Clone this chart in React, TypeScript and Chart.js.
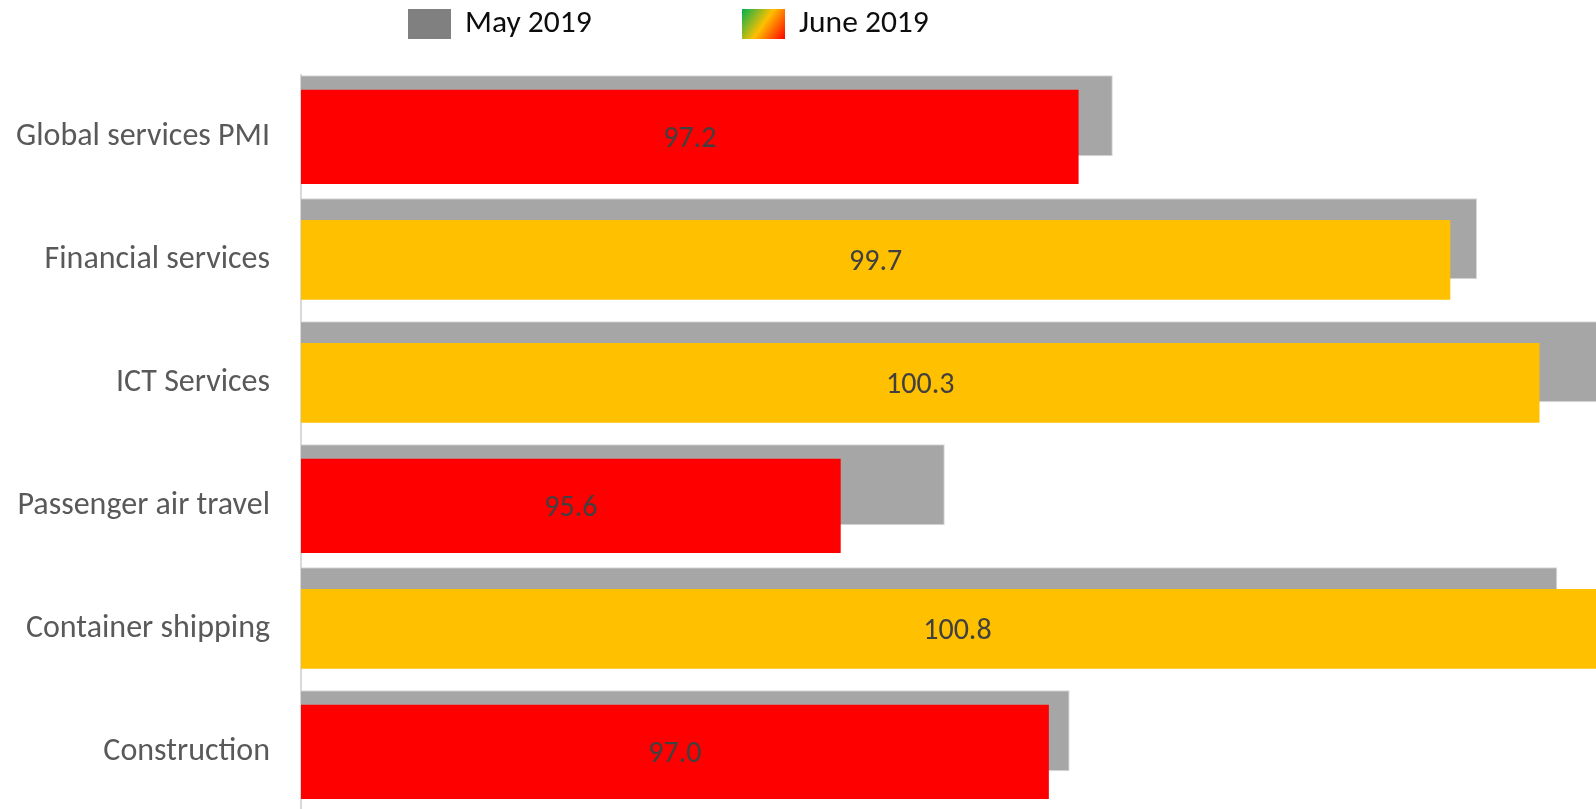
import React, { useEffect, useRef } from 'react';
import { Chart, registerables } from 'chart.js';

Chart.register(...registerables);

// ---- Data ----
const categories = [
  'Global services PMI',
  'Financial services',
  'ICT Services',
  'Passenger air travel',
  'Container shipping',
  'Construction',
];
const seriesNames = ['May 2019', 'June 2019'];
const mayValues = [97.43, 99.88, 100.9, 96.3, 100.42, 97.14];
const juneValues = [97.2, 99.7, 100.3, 95.6, 100.8, 97.0];
const axisMin = 91.97;
const axisMax = 100.68;
const juneRedBelow = 99; // June readings under this are coloured red, others amber

// ---- Style ----
const FONT = 'Carlito, Calibri, Lato, sans-serif';
const MAY_BAR = '#A6A6A6';
const MAY_SWATCH = '#808080';
const JUNE_RED = '#FF0000';
const JUNE_AMBER = '#FFC000';
const JUNE_GREEN = '#00B050';
const MAY_INDEX = 0;

export default function App() {
  const ref = useRef<HTMLCanvasElement | null>(null);

  useEffect(() => {
    document.body.style.margin = '0';
    const canvas = ref.current;
    if (!canvas) return;

    const juneRed = juneValues.map((v) => (v < juneRedBelow ? v : null));
    const juneAmber = juneValues.map((v) => (v >= juneRedBelow ? v : null));

    // Draw the May bars behind the June bars
    const behindPlugin = {
      id: 'mayBehind',
      beforeDatasetDraw(_chart: any, args: any) {
        if (args.index === MAY_INDEX) return false;
        return undefined;
      },
      beforeDatasetsDraw(chart: any) {
        const meta = chart.getDatasetMeta(MAY_INDEX);
        const { ctx, chartArea: a } = chart;
        ctx.save();
        ctx.beginPath();
        ctx.rect(a.left, a.top, a.right - a.left, a.bottom - a.top);
        ctx.clip();
        meta.controller.draw();
        ctx.restore();
      },
    };

    const labelPlugin = {
      id: 'juneLabels',
      afterDatasetsDraw(chart: any) {
        const ctx = chart.ctx;
        const xs = chart.scales.x;
        const left = xs.getPixelForValue(xs.min);
        ctx.save();
        ctx.font = `30px ${FONT}`;
        ctx.fillStyle = '#404040';
        ctx.textAlign = 'center';
        ctx.textBaseline = 'middle';
        juneValues.forEach((v, i) => {
          const dsIndex = v < juneRedBelow ? 1 : 2;
          const bar = chart.getDatasetMeta(dsIndex).data[i];
          const x = (left + xs.getPixelForValue(v)) / 2;
          ctx.fillText(v.toFixed(1), x, bar.y + 3);
        });
        ctx.restore();
      },
    };

    const legendPlugin = {
      id: 'customLegend',
      afterDraw(chart: any) {
        const ctx = chart.ctx;
        const boxW = 43;
        const boxH = 30;
        const top = 9;
        const xs = [408, 742];
        ctx.save();
        xs.forEach((x, i) => {
          if (i === 0) {
            ctx.fillStyle = MAY_SWATCH;
          } else {
            const g = ctx.createLinearGradient(x, top, x + boxW, top + boxH);
            g.addColorStop(0, JUNE_GREEN);
            g.addColorStop(0.5, JUNE_AMBER);
            g.addColorStop(1, JUNE_RED);
            ctx.fillStyle = g;
          }
          ctx.fillRect(x, top, boxW, boxH);
          ctx.font = `31.5px ${FONT}`;
          ctx.fillStyle = '#0D0D0D';
          ctx.textAlign = 'left';
          ctx.textBaseline = 'middle';
          ctx.fillText(seriesNames[i], x + boxW + 14, top + boxH / 2);
        });
        ctx.restore();
      },
    };

    const chart = new Chart(canvas, {
      type: 'bar',
      data: {
        labels: categories,
        datasets: [
          {
            label: seriesNames[0],
            data: mayValues,
            backgroundColor: MAY_BAR,
            borderColor: '#D9D9D9',
            borderWidth: 1,
            borderSkipped: 'start',
            stack: 'may',
            categoryPercentage: 0.673,
            barPercentage: 1.957,
          },
          {
            label: seriesNames[1],
            data: juneRed,
            backgroundColor: JUNE_RED,
            borderWidth: 0,
            stack: 'june',
            categoryPercentage: 0.0114,
            barPercentage: 134.5,
          },
          {
            label: seriesNames[1],
            data: juneAmber,
            backgroundColor: JUNE_AMBER,
            borderWidth: 0,
            stack: 'june',
            categoryPercentage: 0.0114,
            barPercentage: 114,
          },
        ] as any,
      },
      options: {
        indexAxis: 'y',
        responsive: false,
        animation: false,
        layout: { padding: { top: 75, bottom: 0, left: 0, right: 0 } },
        scales: {
          x: {
            type: 'linear',
            display: false,
            min: axisMin,
            max: axisMax,
            stacked: false,
          },
          y: {
            type: 'category',
            grid: { display: false, drawTicks: false },
            border: { display: true, color: '#D9D9D9', width: 2 },
            ticks: {
              autoSkip: false,
              padding: 31,
              color: '#595959',
              font: { family: FONT, size: 32 },
            },
            afterFit(scale: any) {
              scale.width = 301;
              scale.paddingTop = 0;
              scale.paddingBottom = 0;
            },
          },
        },
        datasets: { bar: { clip: 0 } } as any,
        plugins: {
          legend: { display: false },
          tooltip: { enabled: false },
        },
      } as any,
      plugins: [behindPlugin, labelPlugin, legendPlugin],
    });

    return () => chart.destroy();
  }, []);

  // The plot area runs a little past the bottom edge of the picture, as in the original
  return (
    <div style={{ width: 1596, height: 809, position: 'relative', overflow: 'hidden' }}>
      <canvas ref={ref} width={1596} height={813} style={{ display: 'block' }} />
    </div>
  );
}
